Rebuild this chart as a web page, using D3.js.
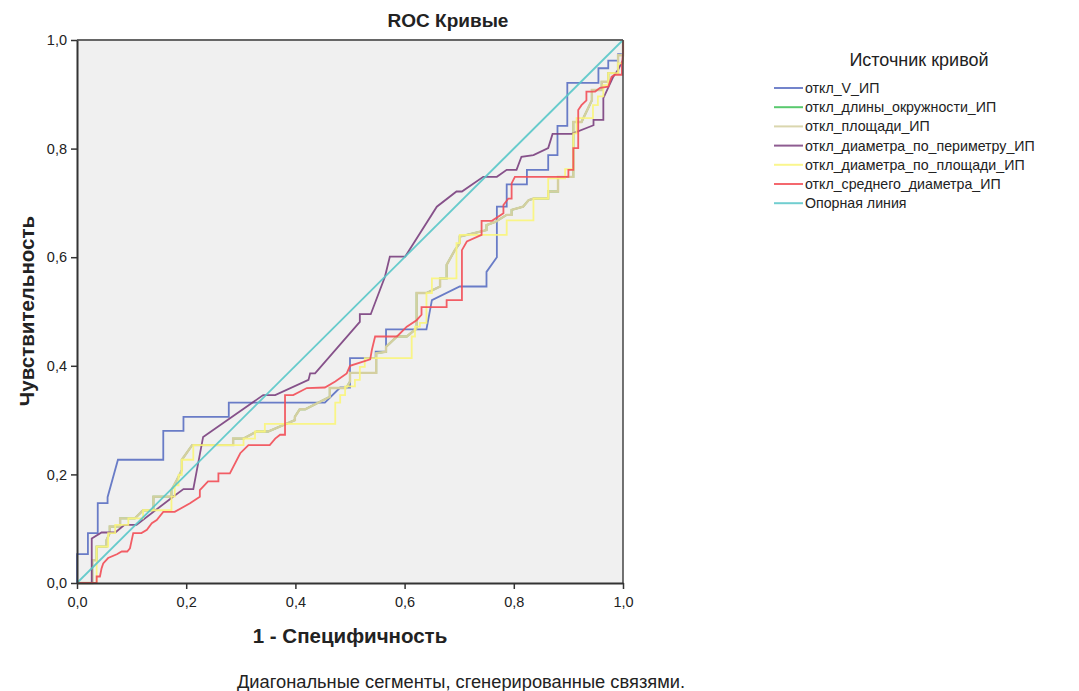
<!DOCTYPE html>
<html><head><meta charset="utf-8">
<script src="https://cdn.jsdelivr.net/npm/d3@7"></script>
<style>body{margin:0;background:#fff;font-family:"Liberation Sans",Arial,sans-serif}</style>
</head><body><svg id="c" width="1079" height="691"></svg>
<script>
const seriesNames = ["откл_V_ИП","откл_длины_окружности_ИП","откл_площади_ИП","откл_диаметра_по_периметру_ИП","откл_диаметра_по_площади_ИП","откл_среднего_диаметра_ИП","Опорная линия"];
const seriesColors = ["#5a6fc2","#3cbf55","#d4cfa0","#7a3f7e","#f9f57a","#f24d55","#58c6c8"];
const tickValues = [0,0.2,0.4,0.6,0.8,1.0];
const tickLabels = ["0,0","0,2","0,4","0,6","0,8","1,0"];

const rocV = [[0,0],[0,0.053],[0.020,0.053],[0.020,0.092],[0.038,0.092],[0.038,0.147],[0.056,0.147],[0.056,0.158],[0.075,0.227],[0.158,0.227],[0.158,0.280],[0.195,0.280],[0.195,0.306],[0.278,0.306],[0.278,0.332],[0.454,0.332],[0.482,0.360],[0.500,0.360],[0.500,0.414],[0.547,0.414],[0.547,0.426],[0.566,0.426],[0.566,0.467],[0.640,0.467],[0.650,0.521],[0.701,0.546],[0.750,0.546],[0.750,0.573],[0.769,0.600],[0.769,0.693],[0.787,0.693],[0.787,0.734],[0.824,0.734],[0.824,0.761],[0.863,0.761],[0.863,0.788],[0.880,0.788],[0.880,0.842],[0.898,0.842],[0.898,0.921],[0.955,0.921],[0.955,0.948],[0.973,0.948],[0.973,0.962],[0.991,0.962],[0.991,0.974],[1,0.974],[1,1]];
const rocArea = [[0,0],[0.028,0],[0.028,0.042],[0.036,0.042],[0.036,0.067],[0.054,0.067],[0.054,0.079],[0.060,0.092],[0.060,0.104],[0.079,0.104],[0.079,0.119],[0.106,0.119],[0.121,0.134],[0.140,0.134],[0.140,0.159],[0.173,0.159],[0.173,0.171],[0.183,0.190],[0.192,0.208],[0.192,0.227],[0.211,0.254],[0.286,0.254],[0.286,0.266],[0.305,0.266],[0.329,0.279],[0.350,0.279],[0.399,0.300],[0.399,0.306],[0.408,0.320],[0.418,0.320],[0.463,0.343],[0.463,0.359],[0.493,0.359],[0.500,0.371],[0.500,0.387],[0.548,0.387],[0.548,0.423],[0.566,0.426],[0.566,0.435],[0.586,0.454],[0.604,0.454],[0.622,0.469],[0.622,0.534],[0.640,0.534],[0.665,0.546],[0.665,0.561],[0.677,0.561],[0.677,0.586],[0.692,0.613],[0.701,0.626],[0.701,0.638],[0.714,0.641],[0.750,0.650],[0.750,0.659],[0.766,0.665],[0.787,0.678],[0.796,0.678],[0.796,0.687],[0.817,0.693],[0.827,0.705],[0.836,0.708],[0.863,0.708],[0.863,0.721],[0.881,0.721],[0.881,0.748],[0.909,0.748],[0.909,0.849],[0.924,0.849],[0.943,0.889],[0.943,0.908],[0.961,0.908],[0.961,0.923],[0.973,0.923],[0.973,0.939],[0.991,0.939],[0.991,0.972],[1,0.972],[1,1]];
const rocCirc = rocArea;
const rocPerim = [[0,0],[0.027,0],[0.027,0.082],[0.045,0.093],[0.070,0.093],[0.087,0.107],[0.109,0.107],[0.176,0.159],[0.195,0.173],[0.213,0.173],[0.231,0.269],[0.341,0.346],[0.363,0.346],[0.424,0.374],[0.427,0.386],[0.436,0.386],[0.518,0.481],[0.518,0.495],[0.538,0.495],[0.564,0.564],[0.573,0.601],[0.601,0.601],[0.659,0.693],[0.695,0.721],[0.705,0.721],[0.744,0.748],[0.769,0.748],[0.787,0.761],[0.805,0.761],[0.814,0.785],[0.836,0.788],[0.863,0.801],[0.871,0.827],[0.906,0.827],[0.946,0.843],[0.946,0.853],[0.964,0.853],[0.964,0.893],[0.982,0.932],[0.991,0.945],[1,0.963],[1,1]];
const rocDiamArea = [[0,0],[0.036,0],[0.036,0.067],[0.057,0.067],[0.057,0.092],[0.070,0.092],[0.070,0.107],[0.094,0.107],[0.094,0.119],[0.121,0.119],[0.121,0.134],[0.173,0.134],[0.173,0.159],[0.179,0.159],[0.179,0.180],[0.186,0.180],[0.186,0.199],[0.192,0.199],[0.192,0.227],[0.213,0.227],[0.213,0.254],[0.305,0.254],[0.305,0.266],[0.326,0.266],[0.326,0.279],[0.344,0.279],[0.344,0.293],[0.473,0.293],[0.473,0.332],[0.482,0.332],[0.482,0.346],[0.491,0.346],[0.491,0.362],[0.509,0.362],[0.509,0.374],[0.518,0.374],[0.518,0.398],[0.527,0.398],[0.527,0.414],[0.613,0.414],[0.613,0.454],[0.619,0.454],[0.619,0.472],[0.628,0.472],[0.628,0.479],[0.640,0.479],[0.640,0.534],[0.650,0.534],[0.650,0.561],[0.695,0.561],[0.695,0.626],[0.701,0.626],[0.701,0.641],[0.787,0.641],[0.787,0.668],[0.836,0.668],[0.836,0.708],[0.863,0.708],[0.863,0.745],[0.894,0.745],[0.894,0.762],[0.909,0.762],[0.909,0.828],[0.915,0.828],[0.915,0.856],[0.945,0.856],[0.945,0.880],[0.954,0.880],[0.954,0.896],[0.964,0.896],[0.964,0.917],[0.973,0.917],[0.973,0.939],[0.991,0.939],[0.991,0.957],[1,0.957],[1,1]];
const rocMean = [[0,0],[0.036,0],[0.036,0.012],[0.042,0.012],[0.045,0.027],[0.048,0.036],[0.057,0.046],[0.073,0.053],[0.082,0.058],[0.092,0.058],[0.097,0.064],[0.103,0.092],[0.118,0.092],[0.128,0.098],[0.137,0.110],[0.146,0.116],[0.158,0.131],[0.179,0.131],[0.207,0.147],[0.225,0.159],[0.225,0.171],[0.240,0.187],[0.259,0.187],[0.259,0.202],[0.280,0.202],[0.299,0.239],[0.314,0.254],[0.353,0.254],[0.363,0.266],[0.372,0.273],[0.381,0.273],[0.381,0.346],[0.396,0.346],[0.421,0.359],[0.454,0.360],[0.473,0.371],[0.494,0.386],[0.500,0.400],[0.537,0.412],[0.540,0.429],[0.546,0.454],[0.586,0.454],[0.604,0.472],[0.622,0.484],[0.631,0.494],[0.631,0.508],[0.677,0.508],[0.677,0.521],[0.705,0.521],[0.705,0.613],[0.714,0.629],[0.741,0.641],[0.741,0.667],[0.760,0.667],[0.781,0.681],[0.781,0.696],[0.790,0.708],[0.796,0.708],[0.796,0.736],[0.802,0.748],[0.900,0.748],[0.900,0.761],[0.909,0.761],[0.909,0.801],[0.918,0.801],[0.918,0.871],[0.924,0.880],[0.933,0.889],[0.933,0.905],[0.949,0.905],[0.958,0.912],[0.973,0.914],[0.979,0.932],[0.985,0.936],[0.998,0.936],[0.998,0.954],[1,0.976],[1,1]];
const refLine = [[0,0],[1,1]];

const allSeries = [rocV, rocCirc, rocArea, rocPerim, rocDiamArea, rocMean, refLine];

const svg = d3.select("#c");
const L = 77, R = 623, T = 40, B = 583;
const x = d3.scaleLinear().domain([0,1]).range([L,R]);
const y = d3.scaleLinear().domain([0,1]).range([B,T]);

svg.append("rect").attr("x",L).attr("y",T).attr("width",R-L).attr("height",B-T).attr("fill","#f0f0f0");

const line = d3.line().x(d=>x(d[0])).y(d=>y(d[1]));
allSeries.forEach((s,i)=>{
  svg.append("path").datum(s).attr("d",line).attr("fill","none")
    .attr("stroke",seriesColors[i]).attr("stroke-width", i===2 ? 2.4 : 1.8).attr("stroke-opacity", i===2 ? 1 : 0.9)
    .attr("stroke-linejoin","miter");
});

// frame
svg.append("line").attr("x1",L).attr("x2",R).attr("y1",T).attr("y2",T).attr("stroke","#666").attr("stroke-width",2);
svg.append("line").attr("x1",R).attr("x2",R).attr("y1",T).attr("y2",B).attr("stroke","#444").attr("stroke-width",1.5);

const fmt = d => tickLabels[tickValues.indexOf(d)];
const xAxis = svg.append("g").attr("transform",`translate(0,${B})`)
  .call(d3.axisBottom(x).tickValues(tickValues).tickFormat(fmt).tickSize(6).tickSizeOuter(0));
const yAxis = svg.append("g").attr("transform",`translate(${L},0)`)
  .call(d3.axisLeft(y).tickValues(tickValues).tickFormat(fmt).tickSize(6).tickSizeOuter(0));
[xAxis,yAxis].forEach(g=>{
  g.select(".domain").attr("stroke","#333").attr("stroke-width",2);
  g.selectAll(".tick line").attr("stroke","#333").attr("stroke-width",1.5);
  g.selectAll("text").attr("font-family","Liberation Sans, Arial, sans-serif").attr("font-size",14.5).attr("fill","#222");
});
xAxis.selectAll("text").attr("dy","1.05em");
yAxis.selectAll("text").attr("dx","-1px");

svg.append("text").attr("x",448).attr("y",27).attr("text-anchor","middle")
  .attr("font-weight","bold").attr("font-size",19).attr("fill","#222").text("ROC Кривые");
svg.append("text").attr("x",350).attr("y",643).attr("text-anchor","middle")
  .attr("font-weight","bold").attr("font-size",20.5).attr("fill","#222").text("1 - Специфичность");
svg.append("text").attr("transform","translate(34,311) rotate(-90)").attr("text-anchor","middle")
  .attr("font-weight","bold").attr("font-size",20.5).attr("fill","#222").text("Чувствительность");
svg.append("text").attr("x",461).attr("y",688).attr("text-anchor","middle")
  .attr("font-size",18.3).attr("fill","#222").text("Диагональные сегменты, сгенерированные связями.");

// legend
const lg = svg.append("g");
lg.append("text").attr("x",919).attr("y",66).attr("text-anchor","middle").attr("font-size",18).attr("fill","#222").text("Источник кривой");
seriesNames.forEach((n,i)=>{
  const yy = 88 + i*19.2;
  lg.append("line").attr("x1",774).attr("x2",803).attr("y1",yy).attr("y2",yy)
    .attr("stroke",seriesColors[i]).attr("stroke-width",2).attr("stroke-opacity",0.85);
  lg.append("text").attr("x",805).attr("y",yy+5).attr("font-size",14.2).attr("fill","#222").text(n);
});
</script></body></html>
